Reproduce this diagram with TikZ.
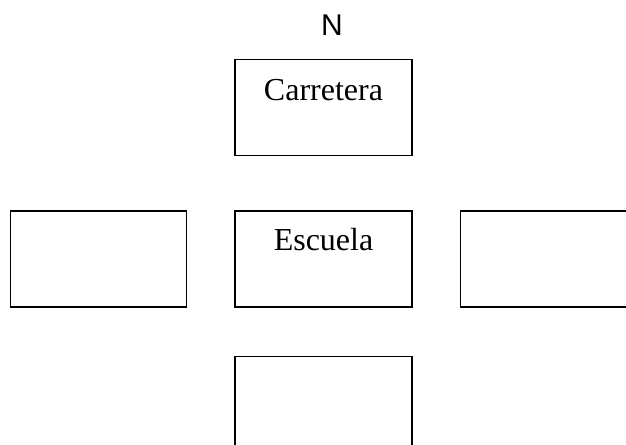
\documentclass[tikz,border=0pt]{standalone}
\usepackage{fontspec}
\setmainfont{Liberation Serif}
\newfontfamily\arialfont{Liberation Sans}
\usetikzlibrary{positioning}
\tikzset{place/.style={%
  draw,
  line width=1.1pt,
  minimum width=132.75pt,
  minimum height=72pt,
  inner sep=0pt,
  anchor=center,
  }
}
\tikzset{placename/.style={%
  anchor=base,
  inner sep=0pt,
  font=\fontsize{24}{28}\selectfont,
  }
}
\tikzset{compass/.style={%
  anchor=base,
  inner sep=0pt,
  font=\arialfont\fontsize{22.5}{26}\selectfont,
  }
}

\begin{document}
\begin{tikzpicture}[x=0.75pt,y=-0.75pt]
  \useasboundingbox (0,0) rectangle (626,444);
  \clip (0,0) rectangle (626,444);

  \node (escuela) [place] at (323.5,259) {};
  \node (carretera) [place, above=40.5pt of escuela] {};
  \node (oeste) [place, left=35.25pt of escuela, minimum width=132pt] {};
  \node (este) [place, right=35.25pt of escuela] {};
  \node (sur) [place, below=36pt of escuela] {};

  \node (txtcarretera) [placename] at ([yshift=-31.5pt]carretera.north) {Carretera};
  \node (txtescuela) [placename] at ([yshift=-30.5pt]escuela.north) {Escuela};

  \node (norte) [compass] at (332,35.5) {N};
\end{tikzpicture}
\end{document}
